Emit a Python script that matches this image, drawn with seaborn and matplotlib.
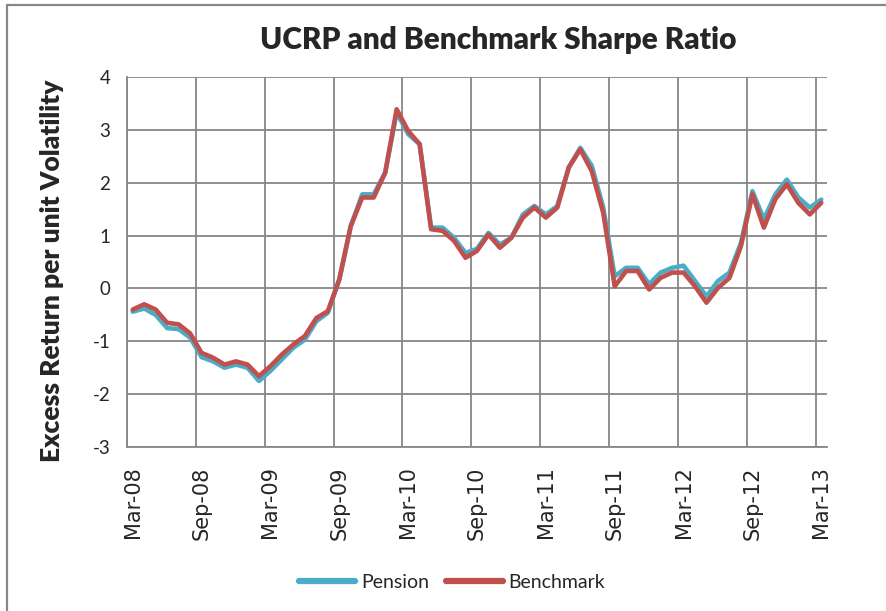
import pandas as pd
import numpy as np
import matplotlib
matplotlib.use("Agg")
import matplotlib.pyplot as plt
from matplotlib.patches import Rectangle
import seaborn as sns

# monthly Sharpe ratios, Mar-08 .. Mar-13 (61 months)
months = pd.date_range("2008-03-01", "2013-03-01", freq="MS")
pension = [-0.44, -0.38, -0.50, -0.75, -0.77, -0.93, -1.30, -1.38, -1.50, -1.44,
           -1.50, -1.75, -1.56, -1.34, -1.12, -0.97, -0.62, -0.46, 0.17, 1.18,
           1.78, 1.78, 2.19, 3.33, 2.92, 2.73, 1.15, 1.15, 0.96, 0.67,
           0.75, 1.05, 0.83, 0.96, 1.40, 1.56, 1.40, 1.56, 2.29, 2.66,
           2.32, 1.53, 0.23, 0.39, 0.39, 0.08, 0.30, 0.39, 0.43, 0.14,
           -0.15, 0.14, 0.30, 0.86, 1.84, 1.31, 1.78, 2.06, 1.72, 1.53,
           1.68]
benchmark = [-0.40, -0.30, -0.40, -0.65, -0.68, -0.85, -1.22, -1.31, -1.44, -1.38,
             -1.44, -1.66, -1.47, -1.25, -1.06, -0.90, -0.56, -0.43, 0.17, 1.18,
             1.72, 1.72, 2.19, 3.39, 2.98, 2.73, 1.12, 1.09, 0.90, 0.58,
             0.71, 1.02, 0.77, 0.96, 1.34, 1.53, 1.34, 1.53, 2.29, 2.63,
             2.22, 1.43, 0.04, 0.33, 0.33, -0.02, 0.20, 0.30, 0.30, 0.04,
             -0.27, 0.01, 0.20, 0.80, 1.78, 1.15, 1.69, 1.97, 1.62, 1.40,
             1.62]
series_names = ["Pension", "Benchmark"]
colors = ["#4BACC6", "#C0504D"]

n = len(months)
df = pd.DataFrame({
    "pos": list(range(n)) * 2,
    "value": pension + benchmark,
    "series": ["Pension"] * n + ["Benchmark"] * n,
})

sns.set_style("white")
plt.rcParams["font.family"] = ["Lato", "DejaVu Sans"]

W, H = 886, 611
fig = plt.figure(figsize=(W / 100, H / 100), dpi=100)
ax = fig.add_axes([127 / W, 1 - 447 / H, 700 / W, 370 / H])

sns.lineplot(data=df, x="pos", y="value", hue="series", hue_order=series_names,
             palette=colors, linewidth=3.3, ax=ax, legend=False, zorder=3)

grid_c = "#878787"
ax.set_xlim(-0.5, n - 0.5)
ax.set_ylim(-3, 4)
ax.set_yticks(range(-3, 5))
ax.set_yticklabels([str(v) for v in range(-3, 5)], fontsize=13.5)
major = list(range(0, n, 6))
ax.set_xticks(major)
ax.set_xticklabels([months[i].strftime("%b-%y") for i in major], rotation=90,
                   fontsize=15, family="DejaVu Sans")
ax.set_xticks([i - 0.5 for i in major], minor=True)
ax.tick_params(axis="x", which="major", length=0, pad=14)
ax.tick_params(axis="x", which="minor", length=5, width=1.3, color=grid_c)
ax.tick_params(axis="y", length=6, width=1.3, color=grid_c, pad=6)
ax.grid(axis="x", which="minor", color=grid_c, lw=1.3)
ax.grid(axis="y", which="major", color=grid_c, lw=1.3)
ax.grid(axis="x", which="major", visible=False)
for s in ["top", "right"]:
    ax.spines[s].set_visible(False)
for s in ["left", "bottom"]:
    ax.spines[s].set_color(grid_c)
    ax.spines[s].set_linewidth(1.3)
ax.set_xlabel("")
ax.set_ylabel("Excess Return per unit Volatility", fontsize=19, fontweight="heavy")
ax.yaxis.set_label_coords(-0.09, 0.475)

fig.text(498 / W, 1 - 40 / H, "UCRP and Benchmark Sharpe Ratio", ha="center",
         va="center", fontsize=21.5, fontweight="heavy")

handles = [plt.Line2D([], [], color=c, lw=4.5, solid_capstyle="round") for c in colors]
fig.legend(handles, series_names, loc="center", bbox_to_anchor=(452 / W, 1 - 582 / H),
           ncol=2, frameon=False, fontsize=14, handlelength=2.9, handletextpad=0.3,
           columnspacing=0.9)

fig.patches.append(Rectangle((7 / W, -0.1), 1.2, 1.1 - 5 / H, transform=fig.transFigure,
                             fill=False, edgecolor=grid_c, lw=1.6))

fig.savefig("out.png", dpi=100)
